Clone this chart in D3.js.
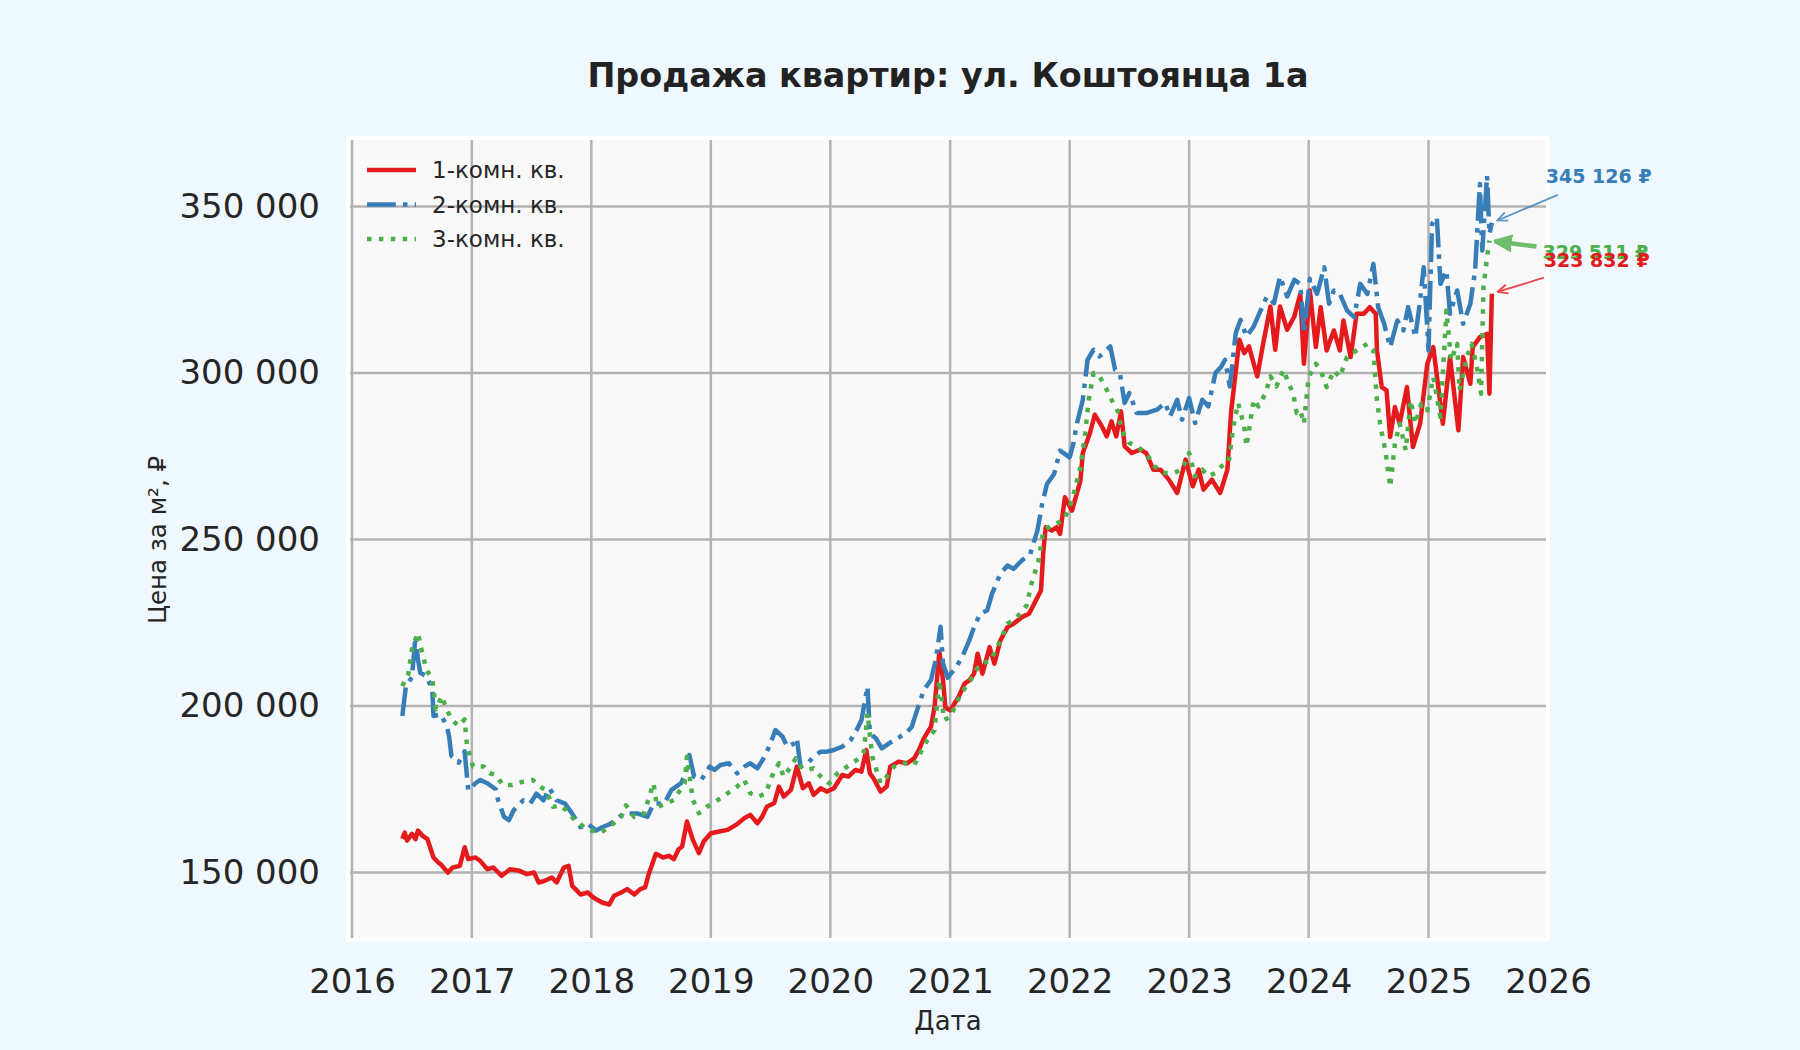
<!DOCTYPE html>
<html>
<head>
<meta charset="utf-8">
<script src="https://cdn.jsdelivr.net/npm/d3@7"></script>
<style>
  body { margin: 0; background: #f0f8ff; }
  svg text { font-family: "DejaVu Sans", sans-serif; fill: #262626; }
</style>
</head>
<body>
<div id="figure"></div>
<script>
const width = 1800,
      height = 1050;

// Series names, final labelled prices and ticks.
const seriesNames = ["1-комн. кв.", "2-комн. кв.", "3-комн. кв."];
const lastPrices = [323832, 345126, 329511];
const yTicks = [150000, 200000, 250000, 300000, 350000];
const xDomainYears = [2016, 2026];

// [decimal year, price per m²].
const oneRoom = [
  [2016.42,160100],[2016.44,162000],[2016.46,159600],[2016.50,161600],[2016.53,160000],
  [2016.55,162600],[2016.59,161000],[2016.63,160000],[2016.68,154500],[2016.72,153000],
  [2016.74,152500],[2016.80,150000],[2016.84,151500],[2016.90,152000],[2016.94,157600],
  [2016.97,154000],[2017.03,154500],[2017.07,153500],[2017.13,151000],[2017.18,151500],
  [2017.25,149000],[2017.32,151000],[2017.40,150500],[2017.46,149500],[2017.52,150000],
  [2017.56,147000],[2017.61,147500],[2017.67,148500],[2017.71,147000],[2017.77,151500],
  [2017.81,152000],[2017.84,146000],[2017.91,143400],[2017.97,144000],[2018.02,142400],
  [2018.09,141000],[2018.15,140400],[2018.19,143000],[2018.25,144000],[2018.30,145000],
  [2018.36,143400],[2018.41,145000],[2018.45,145500],[2018.48,149500],[2018.54,155600],
  [2018.60,154500],[2018.65,155000],[2018.69,154000],[2018.73,157000],[2018.76,157800],
  [2018.80,165300],[2018.85,159800],[2018.90,155800],[2018.94,159300],[2019.00,161800],
  [2019.07,162300],[2019.14,162800],[2019.21,164300],[2019.28,166300],[2019.33,167300],
  [2019.39,164800],[2019.43,166800],[2019.47,169800],[2019.53,170800],[2019.57,175800],
  [2019.61,172800],[2019.67,174800],[2019.72,181800],[2019.77,175300],[2019.82,176800],
  [2019.86,173300],[2019.92,175300],[2019.97,174300],[2020.03,175300],[2020.10,179300],
  [2020.15,178800],[2020.21,180800],[2020.26,180300],[2020.30,186800],[2020.33,179800],
  [2020.36,178300],[2020.42,174300],[2020.47,175800],[2020.50,181800],[2020.57,183300],
  [2020.64,182800],[2020.70,184300],[2020.74,186800],[2020.78,190300],[2020.84,193800],
  [2020.87,199800],[2020.91,216300],[2020.94,207800],[2020.96,199500],[2021.00,198700],
  [2021.07,202700],[2021.12,206700],[2021.16,207700],[2021.20,209700],[2021.23,215700],
  [2021.27,209700],[2021.33,217700],[2021.37,212700],[2021.42,219700],[2021.48,223700],
  [2021.53,224700],[2021.60,226700],[2021.66,227700],[2021.71,231200],[2021.76,234700],
  [2021.78,246700],[2021.80,253700],[2021.85,252700],[2021.89,253700],[2021.92,251700],
  [2021.96,262700],[2022.02,258700],[2022.09,267700],[2022.11,276000],[2022.17,282000],
  [2022.21,287500],[2022.27,284000],[2022.31,281000],[2022.35,285500],[2022.39,281000],
  [2022.43,288500],[2022.46,278000],[2022.52,276000],[2022.59,277000],[2022.64,276000],
  [2022.70,271000],[2022.76,271000],[2022.83,268000],[2022.90,264000],[2022.97,274000],
  [2023.03,266000],[2023.08,271000],[2023.12,265000],[2023.19,268000],[2023.26,264000],
  [2023.32,271000],[2023.35,288000],[2023.42,310000],[2023.46,306000],[2023.50,308000],
  [2023.57,299000],[2023.62,309000],[2023.68,320000],[2023.72,307000],[2023.76,320000],
  [2023.82,313000],[2023.88,317000],[2023.93,323800],[2023.96,302800],[2024.01,324800],
  [2024.06,307800],[2024.10,319800],[2024.15,306800],[2024.21,312800],[2024.26,306800],
  [2024.29,315800],[2024.35,304800],[2024.40,317800],[2024.46,317800],[2024.51,319800],
  [2024.56,317800],[2024.57,306800],[2024.61,295800],[2024.65,294800],[2024.68,280800],
  [2024.72,289800],[2024.76,284800],[2024.82,295800],[2024.87,277800],[2024.93,284800],
  [2024.99,302800],[2025.04,307800],[2025.12,284800],[2025.18,304800],[2025.25,282800],
  [2025.29,304800],[2025.35,296800],[2025.37,307800],[2025.43,310800],[2025.49,311800],
  [2025.51,293800],[2025.53,323832]
];

const twoRoom = [
  [2016.42,197000],[2016.45,206000],[2016.50,208600],[2016.53,221000],[2016.55,214000],
  [2016.57,210000],[2016.62,209000],[2016.67,205000],[2016.68,197000],[2016.74,197500],
  [2016.79,194000],[2016.81,191000],[2016.83,185000],[2016.89,183000],[2016.94,186400],
  [2016.97,174700],[2017.03,176800],[2017.07,177800],[2017.13,176800],[2017.20,175000],
  [2017.22,171700],[2017.27,166700],[2017.31,165700],[2017.35,168700],[2017.43,171700],
  [2017.49,170700],[2017.54,173700],[2017.60,171700],[2017.65,175300],[2017.71,171700],
  [2017.78,170700],[2017.84,167700],[2017.91,163600],[2017.97,164600],[2018.04,162600],
  [2018.09,163600],[2018.16,164600],[2018.27,167700],[2018.39,167700],[2018.47,166700],
  [2018.52,170700],[2018.61,170700],[2018.67,174800],[2018.75,176800],[2018.79,179800],
  [2018.82,185300],[2018.86,178800],[2018.92,177800],[2018.99,181800],[2019.03,180800],
  [2019.08,182300],[2019.15,182800],[2019.22,179800],[2019.28,181800],[2019.33,182800],
  [2019.39,181300],[2019.45,184800],[2019.50,188800],[2019.54,192800],[2019.60,190800],
  [2019.64,187800],[2019.70,188800],[2019.72,190300],[2019.75,181800],[2019.81,182800],
  [2019.86,184800],[2019.92,186300],[2019.97,186300],[2020.03,186800],[2020.10,187800],
  [2020.17,189800],[2020.22,192800],[2020.26,195800],[2020.31,205800],[2020.33,191800],
  [2020.38,190300],[2020.43,187300],[2020.49,188800],[2020.56,190300],[2020.63,191800],
  [2020.68,193800],[2020.72,198300],[2020.78,204800],[2020.84,207800],[2020.88,213800],
  [2020.92,223800],[2020.94,212800],[2020.98,208500],[2021.05,211700],[2021.10,214700],
  [2021.16,219700],[2021.20,223700],[2021.25,227700],[2021.31,228700],[2021.35,233700],
  [2021.42,239700],[2021.48,242200],[2021.53,241200],[2021.60,243700],[2021.67,245700],
  [2021.73,252700],[2021.77,260700],[2021.81,266700],[2021.87,269700],[2021.92,276700],
  [2022.00,274700],[2022.03,278700],[2022.06,284700],[2022.11,292000],[2022.15,304000],
  [2022.20,307000],[2022.25,305000],[2022.34,308000],[2022.38,301000],[2022.42,300000],
  [2022.46,291000],[2022.50,294000],[2022.56,288000],[2022.64,288000],[2022.73,289000],
  [2022.80,291000],[2022.84,287000],[2022.90,292000],[2022.94,286000],[2023.00,292500],
  [2023.05,285000],[2023.11,292000],[2023.16,290000],[2023.22,300000],[2023.27,302000],
  [2023.30,304000],[2023.34,296000],[2023.39,312000],[2023.43,316000],[2023.48,311000],
  [2023.54,314000],[2023.60,319000],[2023.65,323000],[2023.71,321000],[2023.76,329000],
  [2023.82,323000],[2023.88,328000],[2023.93,326800],[2023.96,311800],[2024.01,328300],
  [2024.07,323800],[2024.13,331800],[2024.17,320800],[2024.21,324800],[2024.26,323800],
  [2024.32,318800],[2024.38,316800],[2024.43,326800],[2024.49,323800],[2024.54,332800],
  [2024.58,319800],[2024.63,314800],[2024.68,307800],[2024.74,315800],[2024.79,312800],
  [2024.83,319800],[2024.89,310800],[2024.93,321800],[2024.96,331800],[2025.00,306800],
  [2025.03,344800],[2025.07,346800],[2025.10,326800],[2025.15,330800],[2025.18,317800],
  [2025.24,324800],[2025.29,314800],[2025.35,320800],[2025.39,330800],[2025.43,356800],
  [2025.45,336800],[2025.49,359300],[2025.51,341800],[2025.53,345126]
];

const threeRoom = [
  [2016.42,206000],[2016.47,209600],[2016.50,217000],[2016.55,222000],[2016.58,217000],
  [2016.62,211000],[2016.67,208000],[2016.70,199000],[2016.75,203000],[2016.79,199000],
  [2016.83,196000],[2016.89,194000],[2016.94,196000],[2016.96,187900],[2017.01,181800],
  [2017.10,181800],[2017.15,179800],[2017.20,179300],[2017.26,176300],[2017.34,176300],
  [2017.43,177300],[2017.51,177800],[2017.57,175800],[2017.62,174700],[2017.68,169700],
  [2017.74,170200],[2017.79,168700],[2017.85,166200],[2017.94,163600],[2018.00,162600],
  [2018.08,162000],[2018.16,164000],[2018.25,166700],[2018.29,170200],[2018.36,166700],
  [2018.44,167700],[2018.52,176800],[2018.55,169700],[2018.63,170700],[2018.69,171800],
  [2018.78,176800],[2018.80,184800],[2018.85,171800],[2018.90,167800],[2018.97,169800],
  [2019.06,171800],[2019.14,173800],[2019.22,175800],[2019.28,177800],[2019.33,173800],
  [2019.40,172800],[2019.46,173800],[2019.51,178800],[2019.57,182800],[2019.61,178800],
  [2019.67,181800],[2019.71,184300],[2019.75,181800],[2019.81,180800],[2019.86,181300],
  [2019.92,178800],[2019.99,176800],[2020.06,179800],[2020.14,181800],[2020.22,183800],
  [2020.28,186300],[2020.31,197800],[2020.35,184800],[2020.42,176800],[2020.47,178800],
  [2020.53,181800],[2020.61,182800],[2020.70,182300],[2020.75,185800],[2020.81,189800],
  [2020.87,192800],[2020.91,207800],[2020.95,195800],[2021.00,196700],[2021.09,203700],
  [2021.17,207700],[2021.25,212700],[2021.34,213700],[2021.42,219700],[2021.48,224700],
  [2021.56,226700],[2021.64,230200],[2021.68,236700],[2021.74,243700],[2021.78,252700],
  [2021.87,254700],[2021.95,255700],[2022.02,261700],[2022.09,271700],[2022.13,282000],
  [2022.16,292000],[2022.20,300000],[2022.25,299000],[2022.31,295000],[2022.35,292000],
  [2022.41,288000],[2022.43,283000],[2022.50,279000],[2022.56,278000],[2022.64,276000],
  [2022.71,272000],[2022.78,270000],[2022.87,270000],[2022.94,271000],[2023.00,276000],
  [2023.05,269000],[2023.11,271000],[2023.16,269000],[2023.22,270000],[2023.27,272000],
  [2023.33,273000],[2023.37,284000],[2023.41,291000],[2023.46,284000],[2023.48,278000],
  [2023.54,292000],[2023.58,290000],[2023.64,294000],[2023.68,299000],[2023.73,296000],
  [2023.79,301000],[2023.83,297000],[2023.87,294000],[2023.90,288000],[2023.93,288800],
  [2023.96,284800],[2024.00,298800],[2024.06,302800],[2024.10,300800],[2024.15,295800],
  [2024.21,300800],[2024.26,298800],[2024.32,304800],[2024.40,306800],[2024.49,308800],
  [2024.54,306800],[2024.57,291800],[2024.60,283800],[2024.64,276800],[2024.68,265800],
  [2024.72,278800],[2024.76,284800],[2024.81,276800],[2024.85,291800],[2024.89,284800],
  [2024.94,290800],[2024.99,288800],[2025.04,298800],[2025.10,286800],[2025.15,318800],
  [2025.19,303800],[2025.24,308800],[2025.26,294800],[2025.32,304800],[2025.36,308800],
  [2025.40,302800],[2025.44,293800],[2025.46,325800],[2025.49,334800],[2025.51,339800]
];

// Series look: colour, dash pattern and end-label placement.
const styles = [
  {color: "#e41a1c", dash: null,               labelDx: 52, labelDy: -33, arrowDx: 0,  arrowDy: 17, arrowWidth: 1.8},
  {color: "#377eb8", dash: "28.8,7.2,4.5,7.2", labelDx: 54, labelDy: -46, arrowDx: 12, arrowDy: 18, arrowWidth: 1.8},
  {color: "#4daf4a", dash: "4.5,7.4",          labelDx: 53, labelDy: 12,  arrowDx: -6, arrowDy: -6, arrowWidth: 4.5}
];
const plot = {left: 350, right: 1546, top: 140, bottom: 938};

function yearToDate(y) {
    const yr = Math.floor(y);
    const a = Date.UTC(yr, 0, 1), b = Date.UTC(yr + 1, 0, 1);
    return new Date(a + (y - yr) * (b - a));
}

const series = [oneRoom, twoRoom, threeRoom].map((rows, i) => ({
    name: seriesNames[i],
    last: lastPrices[i],
    style: styles[i],
    values: rows.map(([yr, v]) => ({date: yearToDate(yr), value: v}))
}));

const ru = d3.formatLocale({decimal: ",", thousands: " ", grouping: [3], currency: ["", " ₽"]});
const fmt = ru.format(",d");

const svg = d3.select("#figure").append("svg")
    .attr("width", width)
    .attr("height", height);

svg.append("rect")
    .attr("width", width)
    .attr("height", height)
    .attr("fill", "#f0f8ff");

// Scales.
const x = d3.scaleUtc()
    .domain(xDomainYears.map(yearToDate))
    .range([352, 1548]);

const y = d3.scaleLinear()
    .domain([150000, 350000])
    .range([872.5, 206.6]);

// Plot background with white frame.
svg.append("rect")
    .attr("x", plot.left - 2).attr("y", plot.top - 2)
    .attr("width", plot.right - plot.left + 4).attr("height", plot.bottom - plot.top + 4)
    .attr("fill", "#f9f9f9")
    .attr("stroke", "#ffffff")
    .attr("stroke-width", 4);

svg.append("defs").append("clipPath")
    .attr("id", "clip")
    .append("rect")
    .attr("x", plot.left).attr("y", plot.top)
    .attr("width", plot.right - plot.left).attr("height", plot.bottom - plot.top);

// Grid.
const yearTicks = x.ticks(d3.utcYear.every(1));
svg.append("g")
    .attr("stroke", "#b3b3b3")
    .attr("stroke-width", 2.5)
    .call(g => g.append("g")
        .selectAll("line")
        .data(yearTicks.filter(d => x(d) < plot.right))
        .join("line")
            .attr("x1", d => x(d))
            .attr("x2", d => x(d))
            .attr("y1", plot.top)
            .attr("y2", plot.bottom))
    .call(g => g.append("g")
        .selectAll("line")
        .data(yTicks)
        .join("line")
            .attr("y1", d => y(d))
            .attr("y2", d => y(d))
            .attr("x1", plot.left)
            .attr("x2", plot.right));

// Axes (labels only).
svg.append("g")
    .attr("transform", `translate(0,${plot.bottom})`)
    .call(d3.axisBottom(x).tickValues(yearTicks).tickFormat(d3.utcFormat("%Y")).tickSize(0).tickPadding(31))
    .call(g => g.select(".domain").remove())
    .call(g => g.selectAll("text").style("font-size", "34px").attr("fill", "#262626"));

svg.append("g")
    .attr("transform", `translate(${plot.left},0)`)
    .call(d3.axisLeft(y).tickValues(yTicks).tickFormat(fmt).tickSize(0).tickPadding(30))
    .call(g => g.select(".domain").remove())
    .call(g => g.selectAll("text").style("font-size", "34px").attr("fill", "#262626"));

// Lines.
const line = d3.line()
    .x(d => x(d.date))
    .y(d => y(d.value));

svg.append("g")
    .attr("clip-path", "url(#clip)")
    .selectAll("path")
    .data(series)
    .join("path")
        .attr("d", d => line(d.values))
        .attr("fill", "none")
        .attr("stroke", d => d.style.color)
        .attr("stroke-width", 4.5)
        .attr("stroke-dasharray", d => d.style.dash)
        .attr("stroke-linejoin", "round");

// Legend.
const legend = svg.append("g")
    .selectAll("g")
    .data(series)
    .join("g")
        .attr("transform", (d, i) => `translate(367,${170 + i * 34.5})`);

legend.append("line")
    .attr("x1", 0).attr("x2", 49)
    .attr("stroke", d => d.style.color)
    .attr("stroke-width", 4.5)
    .attr("stroke-dasharray", d => d.style.dash);

legend.append("text")
    .attr("x", 65)
    .attr("dy", "0.35em")
    .style("font-size", "23px")
    .text(d => d.name);

// End labels with arrows.
const defs = svg.select("defs");
series.forEach((s, i) => {
    defs.append("marker")
        .attr("id", `head${i}`)
        .attr("viewBox", "0 0 12 12")
        .attr("refX", 11).attr("refY", 6)
        .attr("markerUnits", "userSpaceOnUse")
        .attr("markerWidth", i === 2 ? 18 : 12)
        .attr("markerHeight", i === 2 ? 18 : 12)
        .attr("orient", "auto")
        .append("path")
        .attr("d", i === 2 ? "M0,1 L12,6 L0,11 Z" : "M1,1.5 L11,6 L1,10.5")
        .attr("fill", i === 2 ? s.style.color : "none")
        .attr("stroke", s.style.color)
        .attr("stroke-width", 1.8);
});

const ends = [1, 2, 0].map(i => series[i]);
const ann = svg.append("g")
    .selectAll("g")
    .data(ends)
    .join("g");

ann.each(function(s) {
    const g = d3.select(this);
    const p = s.values[s.values.length - 1];
    const px = x(p.date), py = y(p.value);
    const tx = px + s.style.labelDx, ty = py + s.style.labelDy;
    const sx = tx + s.style.arrowDx, sy = ty + s.style.arrowDy;
    const len = Math.hypot(sx - px, sy - py);
    const ex = px + (sx - px) * 6 / len, ey = py + (sy - py) * 6 / len;
    const idx = series.indexOf(s);
    g.append("line")
        .attr("x1", sx).attr("y1", sy)
        .attr("x2", ex).attr("y2", ey)
        .attr("stroke", s.style.color)
        .attr("stroke-width", s.style.arrowWidth)
        .attr("opacity", 0.8)
        .attr("marker-end", `url(#head${idx})`);
    g.append("text")
        .attr("x", tx).attr("y", ty)
        .attr("dy", "0.35em")
        .style("font-size", "19px")
        .style("font-weight", "bold")
        .style("fill", s.style.color)
        .text(fmt(s.last) + " ₽");
});

// Titles.
svg.append("text")
    .attr("x", (plot.left + plot.right) / 2)
    .attr("y", 75)
    .attr("dy", "0.35em")
    .attr("text-anchor", "middle")
    .style("font-size", "33.4px")
    .style("font-weight", "bold")
    .style("fill", "#222")
    .text("Продажа квартир: ул. Коштоянца 1а");

svg.append("text")
    .attr("x", (plot.left + plot.right) / 2)
    .attr("y", 1021)
    .attr("dy", "0.35em")
    .attr("text-anchor", "middle")
    .style("font-size", "26px")
    .text("Дата");

svg.append("text")
    .attr("transform", `translate(157,540) rotate(-90)`)
    .attr("dy", "0.35em")
    .attr("text-anchor", "middle")
    .style("font-size", "24.5px")
    .text("Цена за м², ₽");
</script>
</body>
</html>
